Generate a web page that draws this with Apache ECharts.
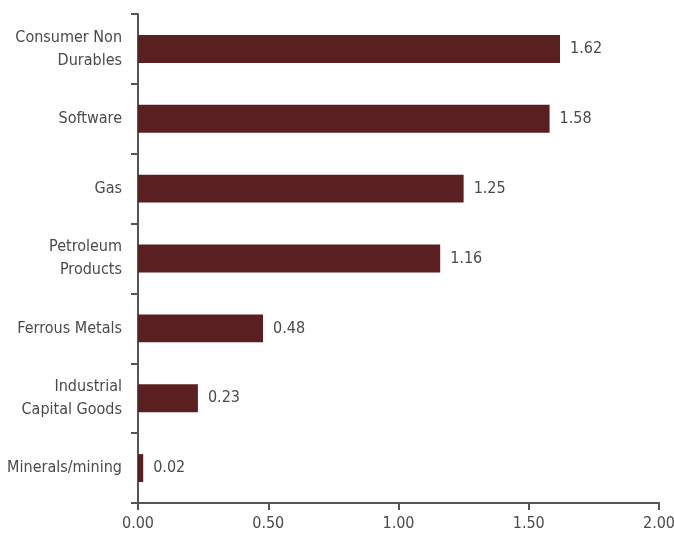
<!DOCTYPE html>
<html>
<head>
<meta charset="utf-8">
<script src="https://cdn.jsdelivr.net/npm/echarts@6/dist/echarts.min.js"></script>
<style>
  html, body { margin: 0; padding: 0; background: #ffffff; }
  #chart { width: 674px; height: 535px; }
</style>
</head>
<body>
<div id="chart"></div>
<script>
// Sectors, listed top to bottom
var sectors = [
  'Consumer Non\nDurables',
  'Software',
  'Gas',
  'Petroleum\nProducts',
  'Ferrous Metals',
  'Industrial\nCapital Goods',
  'Minerals/mining'
];
// Weight of each sector (%)
var weights = [1.62, 1.58, 1.25, 1.16, 0.48, 0.23, 0.02];
// Value axis ticks
var xTicks = [0, 0.5, 1.0, 1.5, 2.0];

var FONT = '"DejaVu Sans Condensed", sans-serif';
var AXIS = '#555555';
var TEXT = '#4a4a4a';

var chart = echarts.init(document.getElementById('chart'), null, { renderer: 'canvas' });
chart.setOption({
  animation: false,
  backgroundColor: '#ffffff',
  grid: { left: 138, right: 15, top: 14, bottom: 32, containLabel: false, outerBoundsMode: 'none' },
  xAxis: {
    type: 'value',
    min: xTicks[0],
    max: xTicks[xTicks.length - 1],
    interval: xTicks[1] - xTicks[0],
    axisLine: { show: true, lineStyle: { color: AXIS, width: 2 } },
    axisTick: { show: true, length: 7, lineStyle: { color: AXIS, width: 2 } },
    splitLine: { show: false },
    axisLabel: {
      color: TEXT, fontFamily: FONT, fontSize: 16, margin: 13,
      formatter: function (v) { return v.toFixed(2); }
    }
  },
  yAxis: {
    type: 'category',
    data: sectors,
    inverse: true,
    axisLine: { show: true, lineStyle: { color: AXIS, width: 2 } },
    axisTick: { show: true, length: 7, alignWithLabel: false, lineStyle: { color: AXIS, width: 2 } },
    axisLabel: {
      color: TEXT, fontFamily: FONT, fontSize: 16, lineHeight: 23, margin: 16, align: 'right'
    }
  },
  series: [{
    type: 'bar',
    data: weights,
    barWidth: '40%',
    itemStyle: { color: '#5a1f20' },
    label: {
      show: true,
      position: 'right',
      distance: 10,
      color: TEXT,
      fontFamily: FONT,
      fontSize: 16,
      formatter: function (p) { return p.value.toFixed(2); }
    }
  }]
});
</script>
</body>
</html>
